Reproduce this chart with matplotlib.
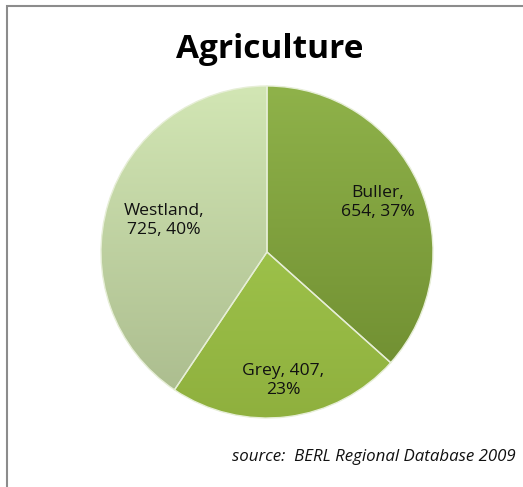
import numpy as np
import matplotlib.pyplot as plt
from matplotlib.patches import Rectangle
from matplotlib.colors import LinearSegmentedColormap

districts = ["Buller", "Grey", "Westland"]
employment = [654, 407, 725]
label_text = ["Buller,\n654, 37%", "Grey, 407,\n23%", "Westland,\n725, 40%"]
label_dist = [0.73, 0.78, 0.65]

# top / bottom shade of each slice
top_colors = ["#8fb24a", "#aad255", "#d2e6b4"]
bottom_colors = ["#6c8a2e", "#8fb03e", "#a9ba8c"]

fig = plt.figure(figsize=(5.23, 4.87), dpi=100)
fig.patch.set_facecolor("white")

W, H = 523, 487
cx, cy, r = 267, 252, 166
ax = fig.add_axes([(cx - r) / W, (H - cy - r) / H, 2 * r / W, 2 * r / H])

wedges, _ = ax.pie(employment, startangle=90, counterclock=False, radius=1.0,
                   wedgeprops=dict(linewidth=1.0, edgecolor="#e6eed6"))

# vertical gradient inside each slice, label at its own distance
for w, c0, c1, txt, d in zip(wedges, top_colors, bottom_colors, label_text, label_dist):
    w.set_facecolor("none")
    cmap = LinearSegmentedColormap.from_list("g", [c1, c0])
    grad = np.linspace(0, 1, 256).reshape(-1, 1)
    im = ax.imshow(grad, cmap=cmap, extent=(-1, 1, -1, 1), origin="lower",
                   aspect="auto", zorder=0.5)
    im.set_clip_path(w)
    w.set_zorder(1)
    mid = np.deg2rad((w.theta1 + w.theta2) / 2)
    ax.text(d * np.cos(mid), d * np.sin(mid), txt, ha="center", va="center",
            fontsize=12.6, family="Open Sans", color="#111111", linespacing=1.25,
            zorder=3)

ax.set_xlim(-1, 1)
ax.set_ylim(-1, 1)
ax.axis("off")

fig.text(270 / W, 1 - 50 / H, "Agriculture", ha="center", va="center",
         fontsize=24, fontweight="bold", family="Open Sans")
fig.text(516 / W, 1 - 457 / H, "source:  BERL Regional Database 2009",
         ha="right", va="center", fontsize=12.2, style="italic", family="Open Sans",
         color="#111111")

# chart frame, runs off the right and bottom edges
fig.add_artist(Rectangle((7 / W, -0.1), 1.2, 1 - 6 / H + 0.1, transform=fig.transFigure,
                         fill=False, edgecolor="#8c8c8c", linewidth=1.5))

fig.savefig("out.png", dpi=100)
